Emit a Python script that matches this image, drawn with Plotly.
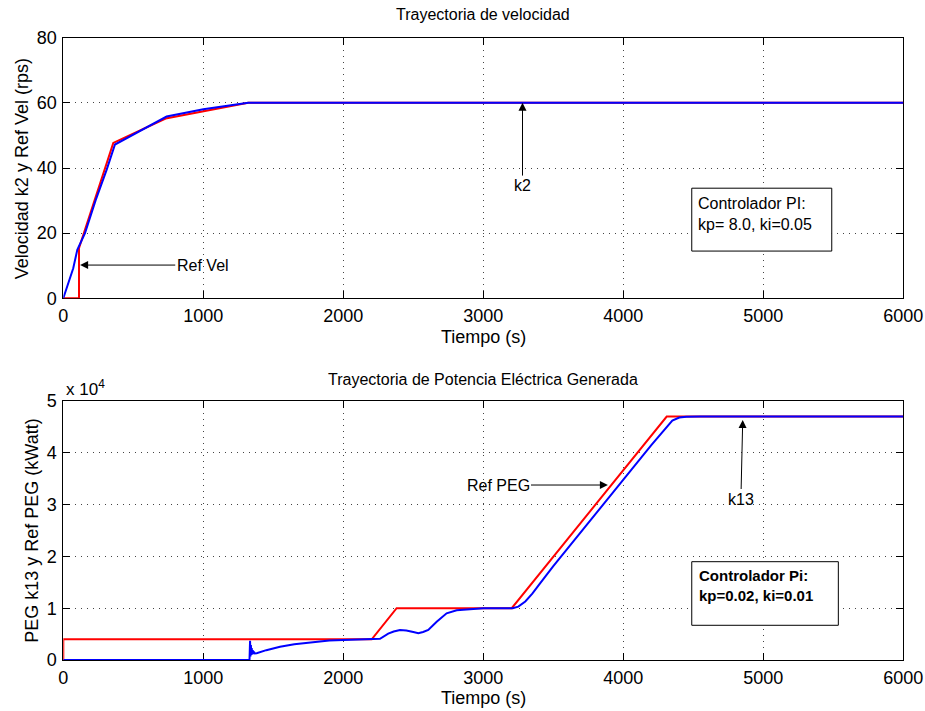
import plotly.graph_objects as go

# ---------------- data ----------------
# Top: velocity (rps)
vel_ref_t = [0, 112, 112, 357, 731, 1321, 6000]
vel_ref_v = [0, 0, 15.4, 47.7, 55.2, 60, 60]
vel_k2_t = [0, 71, 100, 155, 230, 310, 369, 738, 1000, 1321, 6000]
vel_k2_v = [0, 9.2, 14.9, 20, 30, 39.5, 47.2, 55.8, 58, 60, 60]

# Bottom: generated electric power (kW)
peg_ref_t = [0, 0, 2203, 2381, 3203, 4310, 6000]
peg_ref_v = [0, 4000, 4000, 10000, 10000, 47000, 47000]
peg_k13_t = [0, 1330, 1334, 1337, 1340, 1343, 1346, 1349, 1353, 1357, 1362, 1368, 1375,
             1381, 1450, 1548, 1650, 1786, 1900, 2000, 2100, 2200, 2240,
             2262, 2321, 2360, 2405, 2450, 2500, 2536, 2570, 2607, 2667, 2738, 2810, 2929,
             3000, 3210, 3250, 3300, 3350, 3400, 3500, 4200, 4260, 4310, 4350, 4400, 4450,
             4550, 6000]
peg_k13_v = [0, 0, 3700, 700, 2900, 1000, 2300, 1100, 1900, 1150, 1600, 1250, 1350,
             1300, 1900, 2550, 3050, 3500, 3750, 3870, 3930, 3960, 3990,
             4100, 5100, 5500, 5790, 5700, 5400, 5150, 5400, 5790, 7400, 9010, 9590, 9870,
             9980, 10000, 10300, 11300, 12800, 14600, 18100, 41500, 43400, 45100, 46200, 46800, 46980,
             47000, 47000]

x_ticks = [0, 1000, 2000, 3000, 4000, 5000, 6000]
vel_ticks = [0, 20, 40, 60, 80]
peg_ticks = [0, 10000, 20000, 30000, 40000, 50000]
peg_tick_labels = ["0", "1", "2", "3", "4", "5"]

FONT = "Liberation Sans, Arial, Helvetica, sans-serif"
W, H = 925, 711

fig = go.Figure()
fig.add_trace(go.Scatter(x=vel_ref_t, y=vel_ref_v, mode="lines", line=dict(color="#ff0000", width=2),
                         xaxis="x", yaxis="y", cliponaxis=False, showlegend=False))
fig.add_trace(go.Scatter(x=vel_k2_t, y=vel_k2_v, mode="lines", line=dict(color="#0000ff", width=2),
                         xaxis="x", yaxis="y", cliponaxis=False, showlegend=False))
fig.add_trace(go.Scatter(x=peg_ref_t, y=peg_ref_v, mode="lines", line=dict(color="#ff0000", width=2),
                         xaxis="x2", yaxis="y2", cliponaxis=False, showlegend=False))
fig.add_trace(go.Scatter(x=peg_k13_t, y=peg_k13_v, mode="lines", line=dict(color="#0000ff", width=2),
                         xaxis="x2", yaxis="y2", cliponaxis=False, showlegend=False))

xd = [63.3 / W, 903.3 / W]
axis_common = dict(showline=True, linecolor="black", linewidth=1, mirror="allticks",
                   ticks="inside", ticklen=7, tickcolor="black", tickwidth=1,
                   showgrid=True, gridcolor="#444444", griddash="1px,5px", gridwidth=1,
                   zeroline=False, tickfont=dict(family=FONT, size=18, color="black"),
                   layer="below traces", automargin=False)

fig.update_layout(
    width=W, height=H, margin=dict(l=0, r=0, t=0, b=0, autoexpand=False),
    paper_bgcolor="white", plot_bgcolor="white",
    xaxis=dict(domain=xd, range=[0, 6000], tickvals=x_ticks, anchor="y",
               ticklabelstandoff=1, **axis_common),
    yaxis=dict(domain=[1 - 298.3 / H, 1 - 37.7 / H], range=[0, 80], tickvals=vel_ticks, anchor="x",
               ticklabelstandoff=2, **axis_common),
    xaxis2=dict(domain=xd, range=[0, 6000], tickvals=x_ticks, anchor="y2",
                ticklabelstandoff=1, **axis_common),
    yaxis2=dict(domain=[1 - 660 / H, 1 - 401 / H], range=[0, 50000], tickvals=peg_ticks,
                ticktext=peg_tick_labels, anchor="x2", ticklabelstandoff=2, **axis_common),
)

xc = (xd[0] + xd[1]) / 2
txt = dict(family=FONT, color="black")
mid = dict(xref="paper", yref="paper", showarrow=False, xanchor="center", yanchor="middle")
ann = []
# titles
ann.append(dict(text="Trayectoria de velocidad", x=xc, y=1 - 14 / H,
                font=dict(size=16, **txt), **mid))
ann.append(dict(text="Trayectoria de Potencia Eléctrica Generada", x=xc, y=1 - 379 / H,
                font=dict(size=16, **txt), **mid))
# axis titles
ann.append(dict(text="Tiempo (s)", x=xc, y=1 - 337 / H, font=dict(size=18, **txt), **mid))
ann.append(dict(text="Tiempo (s)", x=xc, y=1 - 698 / H, font=dict(size=18, **txt), **mid))
ann.append(dict(text="Velocidad k2 y Ref Vel (rps)", x=21.7 / W, y=1 - 168.5 / H,
                textangle=-90, font=dict(size=18, **txt), **mid))
ann.append(dict(text="PEG k13 y Ref PEG (kWatt)", x=31.7 / W, y=1 - 531 / H,
                textangle=-90, font=dict(size=18, **txt), **mid))
ann.append(dict(text="x 10<sup>4</sup>", x=64 / W, y=1 - 388 / H, xref="paper", yref="paper",
                xanchor="left", yanchor="middle", showarrow=False, font=dict(size=17, **txt)))
# arrows
arrow = dict(showarrow=True, arrowhead=2, arrowsize=1.6, arrowwidth=1, arrowcolor="black",
             font=dict(size=16, **txt))
ann.append(dict(text="Ref Vel", x=120, y=10.2, ax=996, ay=10.2, xref="x", yref="y",
                axref="x", ayref="y", **arrow))
ann.append(dict(text="k2", x=3280, y=60, ax=3280, ay=34.6, xref="x", yref="y",
                axref="x", ayref="y", **arrow))
ann.append(dict(text="Ref PEG", x=3890, y=33780, ax=3105, ay=33780, xref="x2", yref="y2",
                axref="x2", ayref="y2", **arrow))
ann.append(dict(text="k13", x=4853, y=46330, ax=4840, ay=31080, xref="x2", yref="y2",
                axref="x2", ayref="y2", **arrow))
# controller boxes
ann.append(dict(text="Controlador PI:<br>kp= 8.0, ki=0.05", x=4520, y=32.4, xref="x", yref="y",
                xanchor="left", yanchor="top", align="left", showarrow=False,
                font=dict(size=16, **txt)))
ann.append(dict(text="<b>Controlador Pi:</b><br><b>kp=0.02, ki=0.01</b>", x=4525, y=18400,
                xref="x2", yref="y2", xanchor="left", yanchor="top", align="left",
                showarrow=False, font=dict(size=15, **txt)))
fig.update_layout(annotations=ann)

fig.add_shape(type="rect", x0=4489, x1=5489, y0=14.5, y1=33.8, xref="x", yref="y",
              line=dict(color="black", width=1), fillcolor="white", layer="above")
fig.add_shape(type="rect", x0=4489, x1=5536, y0=6700, y1=18977, xref="x2", yref="y2",
              line=dict(color="black", width=1), fillcolor="white", layer="above")

fig.write_html("out.html")
